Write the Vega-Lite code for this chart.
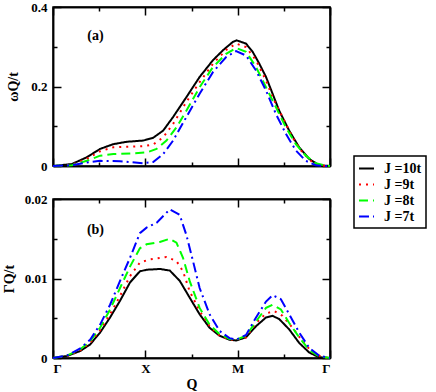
{
  "$schema": "https://vega.github.io/schema/vega-lite/v6.json",
  "padding": {"left": 1, "top": 0, "right": 2, "bottom": 0},
  "background": "white",
  "spacing": 18,
  "config": {
    "view": {"stroke": "black", "strokeWidth": 1.5},
    "font": "Liberation Serif",
    "axis": {
      "grid": false, "domainColor": "black", "domainWidth": 1.5,
      "labelFont": "Liberation Serif", "labelFontWeight": "bold", "labelFontSize": 13, "labelColor": "black",
      "titleFont": "Liberation Serif", "titleFontWeight": "bold", "titleFontSize": 14, "titleColor": "black"
    },
    "legend": {
      "orient": "none", "legendX": 301, "legendY": 149,
      "strokeColor": "black", "strokeWidth": 1.5, "padding": 4, "fillColor": "white",
      "symbolType": "stroke", "symbolSize": 225, "symbolStrokeWidth": 2,
      "labelFont": "Liberation Serif", "labelFontWeight": "bold", "labelFontSize": 14, "labelColor": "black",
      "labelOffset": 9, "rowPadding": 0, "title": null
    }
  },
  "datasets": {
    "lbl": [
      {"p": "a", "x": 0.46, "y": 0.327, "t": "(a)"},
      {"p": "b", "x": 0.46, "y": 0.0161, "t": "(b)"}
    ],
    "curves": [
      {"p":"a","J":"J =10t","x":0,"y":0},{"p":"a","J":"J =10t","x":0.205,"y":0.005},{"p":"a","J":"J =10t","x":0.366,"y":0.022},{"p":"a","J":"J =10t","x":0.51,"y":0.043},{"p":"a","J":"J =10t","x":0.654,"y":0.055},{"p":"a","J":"J =10t","x":0.8,"y":0.061},{"p":"a","J":"J =10t","x":0.977,"y":0.064},{"p":"a","J":"J =10t","x":1.085,"y":0.071},{"p":"a","J":"J =10t","x":1.193,"y":0.089},{"p":"a","J":"J =10t","x":1.3,"y":0.123},{"p":"a","J":"J =10t","x":1.444,"y":0.173},{"p":"a","J":"J =10t","x":1.588,"y":0.224},{"p":"a","J":"J =10t","x":1.732,"y":0.266},{"p":"a","J":"J =10t","x":1.84,"y":0.291},{"p":"a","J":"J =10t","x":1.947,"y":0.312},{"p":"a","J":"J =10t","x":1.99,"y":0.316},{"p":"a","J":"J =10t","x":2.09,"y":0.308},{"p":"a","J":"J =10t","x":2.163,"y":0.287},{"p":"a","J":"J =10t","x":2.235,"y":0.257},{"p":"a","J":"J =10t","x":2.307,"y":0.224},{"p":"a","J":"J =10t","x":2.378,"y":0.182},{"p":"a","J":"J =10t","x":2.45,"y":0.139},{"p":"a","J":"J =10t","x":2.558,"y":0.089},{"p":"a","J":"J =10t","x":2.666,"y":0.047},{"p":"a","J":"J =10t","x":2.774,"y":0.018},{"p":"a","J":"J =10t","x":2.88,"y":0.002},{"p":"a","J":"J =10t","x":3,"y":0},

      {"p":"a","J":"J =9t","x":0,"y":0},{"p":"a","J":"J =9t","x":0.205,"y":0.003},{"p":"a","J":"J =9t","x":0.384,"y":0.02},{"p":"a","J":"J =9t","x":0.51,"y":0.037},{"p":"a","J":"J =9t","x":0.654,"y":0.047},{"p":"a","J":"J =9t","x":0.869,"y":0.049},{"p":"a","J":"J =9t","x":0.977,"y":0.05},{"p":"a","J":"J =9t","x":1.085,"y":0.054},{"p":"a","J":"J =9t","x":1.193,"y":0.072},{"p":"a","J":"J =9t","x":1.301,"y":0.106},{"p":"a","J":"J =9t","x":1.444,"y":0.161},{"p":"a","J":"J =9t","x":1.588,"y":0.211},{"p":"a","J":"J =9t","x":1.732,"y":0.257},{"p":"a","J":"J =9t","x":1.875,"y":0.292},{"p":"a","J":"J =9t","x":1.983,"y":0.308},{"p":"a","J":"J =9t","x":2.091,"y":0.299},{"p":"a","J":"J =9t","x":2.199,"y":0.266},{"p":"a","J":"J =9t","x":2.307,"y":0.215},{"p":"a","J":"J =9t","x":2.378,"y":0.173},{"p":"a","J":"J =9t","x":2.486,"y":0.123},{"p":"a","J":"J =9t","x":2.594,"y":0.072},{"p":"a","J":"J =9t","x":2.702,"y":0.034},{"p":"a","J":"J =9t","x":2.81,"y":0.009},{"p":"a","J":"J =9t","x":2.917,"y":0.001},{"p":"a","J":"J =9t","x":3,"y":0},

      {"p":"a","J":"J =8t","x":0,"y":0},{"p":"a","J":"J =8t","x":0.205,"y":0.002},{"p":"a","J":"J =8t","x":0.366,"y":0.013},{"p":"a","J":"J =8t","x":0.51,"y":0.026},{"p":"a","J":"J =8t","x":0.654,"y":0.03},{"p":"a","J":"J =8t","x":0.869,"y":0.032},{"p":"a","J":"J =8t","x":1.013,"y":0.034},{"p":"a","J":"J =8t","x":1.121,"y":0.043},{"p":"a","J":"J =8t","x":1.229,"y":0.064},{"p":"a","J":"J =8t","x":1.337,"y":0.097},{"p":"a","J":"J =8t","x":1.444,"y":0.139},{"p":"a","J":"J =8t","x":1.588,"y":0.198},{"p":"a","J":"J =8t","x":1.732,"y":0.249},{"p":"a","J":"J =8t","x":1.875,"y":0.282},{"p":"a","J":"J =8t","x":1.983,"y":0.297},{"p":"a","J":"J =8t","x":2.091,"y":0.287},{"p":"a","J":"J =8t","x":2.199,"y":0.249},{"p":"a","J":"J =8t","x":2.307,"y":0.198},{"p":"a","J":"J =8t","x":2.414,"y":0.148},{"p":"a","J":"J =8t","x":2.522,"y":0.097},{"p":"a","J":"J =8t","x":2.63,"y":0.055},{"p":"a","J":"J =8t","x":2.738,"y":0.026},{"p":"a","J":"J =8t","x":2.846,"y":0.007},{"p":"a","J":"J =8t","x":2.953,"y":0.001},{"p":"a","J":"J =8t","x":3,"y":0},

      {"p":"a","J":"J =7t","x":0,"y":0},{"p":"a","J":"J =7t","x":0.205,"y":0.002},{"p":"a","J":"J =7t","x":0.366,"y":0.009},{"p":"a","J":"J =7t","x":0.51,"y":0.013},{"p":"a","J":"J =7t","x":0.726,"y":0.012},{"p":"a","J":"J =7t","x":0.977,"y":0.007},{"p":"a","J":"J =7t","x":1.085,"y":0.01},{"p":"a","J":"J =7t","x":1.193,"y":0.03},{"p":"a","J":"J =7t","x":1.301,"y":0.064},{"p":"a","J":"J =7t","x":1.444,"y":0.123},{"p":"a","J":"J =7t","x":1.588,"y":0.182},{"p":"a","J":"J =7t","x":1.732,"y":0.236},{"p":"a","J":"J =7t","x":1.875,"y":0.274},{"p":"a","J":"J =7t","x":1.983,"y":0.289},{"p":"a","J":"J =7t","x":2.091,"y":0.278},{"p":"a","J":"J =7t","x":2.199,"y":0.24},{"p":"a","J":"J =7t","x":2.307,"y":0.19},{"p":"a","J":"J =7t","x":2.414,"y":0.131},{"p":"a","J":"J =7t","x":2.522,"y":0.081},{"p":"a","J":"J =7t","x":2.63,"y":0.039},{"p":"a","J":"J =7t","x":2.738,"y":0.013},{"p":"a","J":"J =7t","x":2.846,"y":0.002},{"p":"a","J":"J =7t","x":2.953,"y":0},{"p":"a","J":"J =7t","x":3,"y":0},

      {"p":"b","J":"J =10t","x":0,"y":0},{"p":"b","J":"J =10t","x":0.151,"y":0.00025},{"p":"b","J":"J =10t","x":0.295,"y":0.00088},{"p":"b","J":"J =10t","x":0.402,"y":0.0017},{"p":"b","J":"J =10t","x":0.51,"y":0.0032},{"p":"b","J":"J =10t","x":0.618,"y":0.0051},{"p":"b","J":"J =10t","x":0.726,"y":0.0072},{"p":"b","J":"J =10t","x":0.834,"y":0.0095},{"p":"b","J":"J =10t","x":0.941,"y":0.0109},{"p":"b","J":"J =10t","x":1.013,"y":0.0111},{"p":"b","J":"J =10t","x":1.157,"y":0.0112},{"p":"b","J":"J =10t","x":1.265,"y":0.011},{"p":"b","J":"J =10t","x":1.373,"y":0.0097},{"p":"b","J":"J =10t","x":1.48,"y":0.0076},{"p":"b","J":"J =10t","x":1.588,"y":0.0055},{"p":"b","J":"J =10t","x":1.696,"y":0.0038},{"p":"b","J":"J =10t","x":1.804,"y":0.0028},{"p":"b","J":"J =10t","x":1.911,"y":0.0023},{"p":"b","J":"J =10t","x":1.983,"y":0.0022},{"p":"b","J":"J =10t","x":2.091,"y":0.0026},{"p":"b","J":"J =10t","x":2.199,"y":0.004},{"p":"b","J":"J =10t","x":2.307,"y":0.0051},{"p":"b","J":"J =10t","x":2.378,"y":0.0053},{"p":"b","J":"J =10t","x":2.45,"y":0.0049},{"p":"b","J":"J =10t","x":2.558,"y":0.0036},{"p":"b","J":"J =10t","x":2.666,"y":0.0019},{"p":"b","J":"J =10t","x":2.774,"y":0.0007},{"p":"b","J":"J =10t","x":2.88,"y":0.0001},{"p":"b","J":"J =10t","x":3,"y":0},

      {"p":"b","J":"J =9t","x":0,"y":0},{"p":"b","J":"J =9t","x":0.151,"y":0.00025},{"p":"b","J":"J =9t","x":0.295,"y":0.00096},{"p":"b","J":"J =9t","x":0.402,"y":0.0019},{"p":"b","J":"J =9t","x":0.51,"y":0.0035},{"p":"b","J":"J =9t","x":0.618,"y":0.0055},{"p":"b","J":"J =9t","x":0.726,"y":0.0078},{"p":"b","J":"J =9t","x":0.834,"y":0.0103},{"p":"b","J":"J =9t","x":0.941,"y":0.012},{"p":"b","J":"J =9t","x":1.049,"y":0.0124},{"p":"b","J":"J =9t","x":1.229,"y":0.0127},{"p":"b","J":"J =9t","x":1.337,"y":0.0122},{"p":"b","J":"J =9t","x":1.408,"y":0.0109},{"p":"b","J":"J =9t","x":1.48,"y":0.0084},{"p":"b","J":"J =9t","x":1.588,"y":0.0059},{"p":"b","J":"J =9t","x":1.696,"y":0.004},{"p":"b","J":"J =9t","x":1.804,"y":0.0028},{"p":"b","J":"J =9t","x":1.911,"y":0.0023},{"p":"b","J":"J =9t","x":1.983,"y":0.0023},{"p":"b","J":"J =9t","x":2.091,"y":0.0026},{"p":"b","J":"J =9t","x":2.199,"y":0.0044},{"p":"b","J":"J =9t","x":2.307,"y":0.0056},{"p":"b","J":"J =9t","x":2.396,"y":0.0059},{"p":"b","J":"J =9t","x":2.486,"y":0.0053},{"p":"b","J":"J =9t","x":2.594,"y":0.0038},{"p":"b","J":"J =9t","x":2.702,"y":0.0021},{"p":"b","J":"J =9t","x":2.81,"y":0.0007},{"p":"b","J":"J =9t","x":2.917,"y":0.0001},{"p":"b","J":"J =9t","x":3,"y":0},

      {"p":"b","J":"J =8t","x":0,"y":0},{"p":"b","J":"J =8t","x":0.151,"y":0.0003},{"p":"b","J":"J =8t","x":0.295,"y":0.0011},{"p":"b","J":"J =8t","x":0.402,"y":0.0021},{"p":"b","J":"J =8t","x":0.51,"y":0.0038},{"p":"b","J":"J =8t","x":0.618,"y":0.0061},{"p":"b","J":"J =8t","x":0.726,"y":0.0088},{"p":"b","J":"J =8t","x":0.834,"y":0.0115},{"p":"b","J":"J =8t","x":0.941,"y":0.0138},{"p":"b","J":"J =8t","x":1.013,"y":0.0143},{"p":"b","J":"J =8t","x":1.157,"y":0.0146},{"p":"b","J":"J =8t","x":1.265,"y":0.015},{"p":"b","J":"J =8t","x":1.337,"y":0.0145},{"p":"b","J":"J =8t","x":1.408,"y":0.0126},{"p":"b","J":"J =8t","x":1.48,"y":0.0097},{"p":"b","J":"J =8t","x":1.588,"y":0.0063},{"p":"b","J":"J =8t","x":1.696,"y":0.0042},{"p":"b","J":"J =8t","x":1.804,"y":0.003},{"p":"b","J":"J =8t","x":1.911,"y":0.0024},{"p":"b","J":"J =8t","x":1.983,"y":0.0023},{"p":"b","J":"J =8t","x":2.091,"y":0.0028},{"p":"b","J":"J =8t","x":2.199,"y":0.0046},{"p":"b","J":"J =8t","x":2.307,"y":0.0063},{"p":"b","J":"J =8t","x":2.378,"y":0.0067},{"p":"b","J":"J =8t","x":2.468,"y":0.0061},{"p":"b","J":"J =8t","x":2.558,"y":0.0044},{"p":"b","J":"J =8t","x":2.666,"y":0.0026},{"p":"b","J":"J =8t","x":2.774,"y":0.001},{"p":"b","J":"J =8t","x":2.881,"y":0.0002},{"p":"b","J":"J =8t","x":3,"y":0},

      {"p":"b","J":"J =7t","x":0,"y":0},{"p":"b","J":"J =7t","x":0.151,"y":0.0003},{"p":"b","J":"J =7t","x":0.295,"y":0.0012},{"p":"b","J":"J =7t","x":0.402,"y":0.0023},{"p":"b","J":"J =7t","x":0.51,"y":0.0042},{"p":"b","J":"J =7t","x":0.618,"y":0.0067},{"p":"b","J":"J =7t","x":0.726,"y":0.0097},{"p":"b","J":"J =7t","x":0.834,"y":0.0126},{"p":"b","J":"J =7t","x":0.941,"y":0.0157},{"p":"b","J":"J =7t","x":1.013,"y":0.0164},{"p":"b","J":"J =7t","x":1.121,"y":0.017},{"p":"b","J":"J =7t","x":1.265,"y":0.0187},{"p":"b","J":"J =7t","x":1.372,"y":0.018},{"p":"b","J":"J =7t","x":1.444,"y":0.0155},{"p":"b","J":"J =7t","x":1.516,"y":0.0122},{"p":"b","J":"J =7t","x":1.588,"y":0.0088},{"p":"b","J":"J =7t","x":1.696,"y":0.0055},{"p":"b","J":"J =7t","x":1.804,"y":0.0034},{"p":"b","J":"J =7t","x":1.911,"y":0.0025},{"p":"b","J":"J =7t","x":1.983,"y":0.0023},{"p":"b","J":"J =7t","x":2.091,"y":0.0029},{"p":"b","J":"J =7t","x":2.199,"y":0.0051},{"p":"b","J":"J =7t","x":2.307,"y":0.0071},{"p":"b","J":"J =7t","x":2.378,"y":0.0079},{"p":"b","J":"J =7t","x":2.468,"y":0.0074},{"p":"b","J":"J =7t","x":2.558,"y":0.0055},{"p":"b","J":"J =7t","x":2.666,"y":0.0032},{"p":"b","J":"J =7t","x":2.774,"y":0.0013},{"p":"b","J":"J =7t","x":2.881,"y":0.0003},{"p":"b","J":"J =7t","x":3,"y":0}
    ]
  },
  "vconcat": [
    {
      "width": 277, "height": 159,
      "layer": [
        {
          "data": {"name": "curves"},
          "transform": [{"filter": "datum.p == 'a'"}],
          "mark": {"type": "line", "strokeWidth": 2},
          "encoding": {
            "x": {"field": "x", "type": "quantitative", "scale": {"domain": [0, 3], "nice": false},
                  "axis": {"orient": "bottom", "values": [0, 1, 2, 3], "labels": false, "title": null, "tickSize": -8, "tickColor": "black", "tickWidth": 1.5}},
            "y": {"field": "y", "type": "quantitative", "scale": {"domain": [0, 0.4], "nice": false},
                  "axis": {"orient": "left", "values": [0, 0.2, 0.4], "title": "ωQ/t", "titlePadding": 10, "labelPadding": 14,
                           "labelExpr": "datum.value < 0.05 ? '0' : format(datum.value, '.1f')", "tickSize": -8, "tickColor": "black", "tickWidth": 1.5}},
            "color": {"field": "J", "type": "nominal",
                      "scale": {"domain": ["J =10t", "J =9t", "J =8t", "J =7t"], "range": ["#000000", "#ff0000", "#00ff00", "#0000ff"]}},
            "strokeDash": {"field": "J", "type": "nominal",
                      "scale": {"domain": ["J =10t", "J =9t", "J =8t", "J =7t"], "range": [[1, 0], [2, 5], [9, 5], [10, 4, 2, 4]]}}
          }
        },
        {
          "data": {"name": "curves"},
          "transform": [{"filter": "datum.p == 'a'"}],
          "mark": {"type": "line", "opacity": 0},
          "encoding": {
            "x": {"field": "x", "type": "quantitative",
                  "axis": {"orient": "top", "values": [0, 1, 2, 3], "labels": false, "title": null, "tickSize": -8, "tickColor": "black", "tickWidth": 1.5}},
            "y": {"field": "y", "type": "quantitative",
                  "axis": {"orient": "right", "values": [0, 0.2, 0.4], "labels": false, "title": null, "tickSize": -8, "tickColor": "black", "tickWidth": 1.5}}
          }
        },
        {
          "data": {"name": "curves"},
          "transform": [{"filter": "datum.p == 'a'"}],
          "mark": {"type": "line", "opacity": 0},
          "encoding": {
            "x": {"field": "x", "type": "quantitative",
                  "axis": {"orient": "bottom", "values": [0.5, 1.5, 2.5], "labels": false, "title": null, "tickSize": -4, "tickColor": "black", "tickWidth": 1.5}},
            "y": {"field": "y", "type": "quantitative",
                  "axis": {"orient": "left", "values": [0.1, 0.3], "labels": false, "title": null, "tickSize": -4, "tickColor": "black", "tickWidth": 1.5}}
          }
        },
        {
          "data": {"name": "curves"},
          "transform": [{"filter": "datum.p == 'a'"}],
          "mark": {"type": "line", "opacity": 0},
          "encoding": {
            "x": {"field": "x", "type": "quantitative",
                  "axis": {"orient": "top", "values": [0.5, 1.5, 2.5], "labels": false, "title": null, "tickSize": -4, "tickColor": "black", "tickWidth": 1.5}},
            "y": {"field": "y", "type": "quantitative",
                  "axis": {"orient": "right", "values": [0.1, 0.3], "labels": false, "title": null, "tickSize": -4, "tickColor": "black", "tickWidth": 1.5}}
          }
        },
        {
          "data": {"name": "lbl"},
          "transform": [{"filter": "datum.p == 'a'"}],
          "mark": {"type": "text", "font": "Liberation Serif", "fontWeight": "bold", "fontSize": 14, "color": "black"},
          "encoding": {
            "x": {"field": "x", "type": "quantitative", "axis": null},
            "y": {"field": "y", "type": "quantitative", "axis": null},
            "text": {"field": "t"}
          }
        }
      ],
      "resolve": {"axis": {"x": "independent", "y": "independent"}}
    },
    {
      "width": 277, "height": 159,
      "layer": [
        {
          "data": {"name": "curves"},
          "transform": [{"filter": "datum.p == 'b'"}],
          "mark": {"type": "line", "strokeWidth": 2},
          "encoding": {
            "x": {"field": "x", "type": "quantitative", "scale": {"domain": [0, 3], "nice": false},
                  "axis": {"orient": "bottom", "values": [0, 1, 2, 3], "title": "Q", "titlePadding": 2, "labelPadding": 12,
                           "labelExpr": "datum.value == 1 ? 'X' : (datum.value == 2 ? 'M' : 'Γ')", "tickSize": -8, "tickColor": "black", "tickWidth": 1.5}},
            "y": {"field": "y", "type": "quantitative", "scale": {"domain": [0, 0.02], "nice": false},
                  "axis": {"orient": "left", "values": [0, 0.01, 0.02], "title": "ΓQ/t", "titlePadding": 8, "labelPadding": 14,
                           "labelExpr": "datum.value < 0.002 ? '0' : format(datum.value, '.2f')", "tickSize": -8, "tickColor": "black", "tickWidth": 1.5}},
            "color": {"field": "J", "type": "nominal",
                      "scale": {"domain": ["J =10t", "J =9t", "J =8t", "J =7t"], "range": ["#000000", "#ff0000", "#00ff00", "#0000ff"]}},
            "strokeDash": {"field": "J", "type": "nominal",
                      "scale": {"domain": ["J =10t", "J =9t", "J =8t", "J =7t"], "range": [[1, 0], [2, 5], [9, 5], [10, 4, 2, 4]]}}
          }
        },
        {
          "data": {"name": "curves"},
          "transform": [{"filter": "datum.p == 'b'"}],
          "mark": {"type": "line", "opacity": 0},
          "encoding": {
            "x": {"field": "x", "type": "quantitative",
                  "axis": {"orient": "top", "values": [0, 1, 2, 3], "labels": false, "title": null, "tickSize": -8, "tickColor": "black", "tickWidth": 1.5}},
            "y": {"field": "y", "type": "quantitative",
                  "axis": {"orient": "right", "values": [0, 0.01, 0.02], "labels": false, "title": null, "tickSize": -8, "tickColor": "black", "tickWidth": 1.5}}
          }
        },
        {
          "data": {"name": "curves"},
          "transform": [{"filter": "datum.p == 'b'"}],
          "mark": {"type": "line", "opacity": 0},
          "encoding": {
            "x": {"field": "x", "type": "quantitative",
                  "axis": {"orient": "bottom", "values": [0.5, 1.5, 2.5], "labels": false, "title": null, "tickSize": -4, "tickColor": "black", "tickWidth": 1.5}},
            "y": {"field": "y", "type": "quantitative",
                  "axis": {"orient": "left", "values": [0.005, 0.015], "labels": false, "title": null, "tickSize": -4, "tickColor": "black", "tickWidth": 1.5}}
          }
        },
        {
          "data": {"name": "curves"},
          "transform": [{"filter": "datum.p == 'b'"}],
          "mark": {"type": "line", "opacity": 0},
          "encoding": {
            "x": {"field": "x", "type": "quantitative",
                  "axis": {"orient": "top", "values": [0.5, 1.5, 2.5], "labels": false, "title": null, "tickSize": -4, "tickColor": "black", "tickWidth": 1.5}},
            "y": {"field": "y", "type": "quantitative",
                  "axis": {"orient": "right", "values": [0.005, 0.015], "labels": false, "title": null, "tickSize": -4, "tickColor": "black", "tickWidth": 1.5}}
          }
        },
        {
          "data": {"name": "lbl"},
          "transform": [{"filter": "datum.p == 'b'"}],
          "mark": {"type": "text", "font": "Liberation Serif", "fontWeight": "bold", "fontSize": 14, "color": "black"},
          "encoding": {
            "x": {"field": "x", "type": "quantitative", "axis": null},
            "y": {"field": "y", "type": "quantitative", "axis": null},
            "text": {"field": "t"}
          }
        }
      ],
      "resolve": {"axis": {"x": "independent", "y": "independent"}}
    }
  ]
}
